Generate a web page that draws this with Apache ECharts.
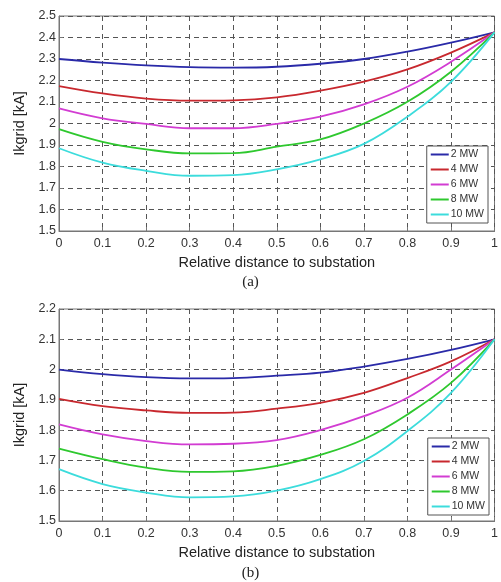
<!DOCTYPE html>
<html>
<head>
<meta charset="utf-8">
<script src="https://cdn.jsdelivr.net/npm/echarts@6/dist/echarts.min.js"></script>
<style>html,body{margin:0;padding:0;background:#fff;}#c{width:501px;height:582px;}</style>
</head>
<body>
<div id="c"></div>
<script>
const xValues = [0, 0.1, 0.2, 0.3, 0.4, 0.5, 0.6, 0.7, 0.8, 0.9, 1.0];
const seriesNames = ['2 MW', '4 MW', '6 MW', '8 MW', '10 MW'];
// Panel (a)
const a2MW  = [2.300, 2.283, 2.270, 2.262, 2.260, 2.264, 2.278, 2.300, 2.334, 2.376, 2.424];
const a4MW  = [2.174, 2.140, 2.116, 2.106, 2.108, 2.122, 2.153, 2.195, 2.252, 2.330, 2.424];
const a6MW  = [2.070, 2.024, 1.998, 1.978, 1.978, 1.998, 2.032, 2.089, 2.171, 2.287, 2.424];
const a8MW  = [1.974, 1.915, 1.880, 1.861, 1.862, 1.892, 1.926, 2.000, 2.101, 2.241, 2.424];
const a10MW = [1.885, 1.818, 1.780, 1.757, 1.760, 1.787, 1.833, 1.905, 2.032, 2.194, 2.424];
// Panel (b)
const b2MW  = [2.000, 1.985, 1.975, 1.971, 1.972, 1.980, 1.990, 2.010, 2.035, 2.065, 2.100];
const b4MW  = [1.903, 1.879, 1.865, 1.857, 1.858, 1.871, 1.890, 1.923, 1.972, 2.027, 2.100];
const b6MW  = [1.819, 1.786, 1.764, 1.753, 1.755, 1.767, 1.800, 1.846, 1.907, 2.000, 2.100];
const b8MW  = [1.739, 1.704, 1.676, 1.662, 1.664, 1.682, 1.718, 1.770, 1.852, 1.956, 2.100];
const b10MW = [1.671, 1.622, 1.594, 1.578, 1.581, 1.600, 1.638, 1.698, 1.797, 1.923, 2.100];
const xTitle = 'Relative distance to substation';
const yTitle = 'Ikgrid [kA]';

const colors = ['#2a2aa8', '#c8282e', '#d23cd2', '#2ec82e', '#3cdcdc'];
const font = 'Liberation Sans, Arial, sans-serif';
const serif = 'Liberation Serif, Times New Roman, serif';

function pair(arr) { return xValues.map((x, i) => [x, arr[i]]); }

function mkX(idx) {
  return {
    type: 'value', gridIndex: idx, min: 0, max: 1, interval: 0.1,
    name: xTitle, nameLocation: 'middle', nameGap: 24,
    nameTextStyle: {fontFamily: font, fontSize: 14.5, color: '#222'},
    axisLine: {show: true, onZero: false, lineStyle: {color: '#777', width: 1}},
    axisTick: {show: true, inside: true, length: 4, lineStyle: {color: '#777'}},
    axisLabel: {fontFamily: font, fontSize: 12.5, color: '#333', margin: 6,
      formatter: v => (Math.round(v * 10) / 10).toString()},
    splitLine: {show: true, lineStyle: {color: '#555', type: [5, 4], width: 1}}
  };
}
function mkY(idx, min, max) {
  return {
    type: 'value', gridIndex: idx, min: min, max: max, interval: 0.1,
    name: yTitle, nameLocation: 'middle', nameGap: 28, nameRotate: 90,
    nameTextStyle: {fontFamily: font, fontSize: 14.5, color: '#222'},
    axisLine: {show: true, lineStyle: {color: '#777', width: 1}},
    axisTick: {show: true, inside: true, length: 4, lineStyle: {color: '#777'}},
    axisLabel: {fontFamily: font, fontSize: 12.5, color: '#333', margin: 3,
      formatter: v => (Math.round(v * 10) / 10).toString()},
    splitLine: {show: true, lineStyle: {color: '#555', type: [5, 4], width: 1}}
  };
}
function mkSeries(idx, arrs) {
  return arrs.map((arr, i) => ({
    type: 'line', name: seriesNames[i], xAxisIndex: idx, yAxisIndex: idx,
    data: pair(arr), smooth: 0.4, showSymbol: false, symbol: 'none',
    lineStyle: {color: colors[i], width: 1.8}, itemStyle: {color: colors[i]},
    z: 3
  }));
}
function mkLegend(top, right) {
  return {
    data: seriesNames, orient: 'vertical', right: right, top: top,
    icon: 'rect', itemWidth: 18, itemHeight: 2, itemGap: 4,
    backgroundColor: '#fff', borderColor: '#555', borderWidth: 1,
    padding: [3, 4, 3, 4], borderRadius: 0,
    textStyle: {fontFamily: font, fontSize: 10.5, color: '#333', padding: [0, 0, 0, -3]}
  };
}

const chart = echarts.init(document.getElementById('c'), null, {renderer: 'canvas'});
chart.setOption({
  backgroundColor: '#fff',
  animation: false,
  color: colors,
  title: [
    {text: '(a)', left: 'center', top: 275, padding: 0, textStyle: {fontFamily: serif, fontSize: 15, fontWeight: 'normal', color: '#222'}},
    {text: '(b)', left: 'center', top: 566, padding: 0, textStyle: {fontFamily: serif, fontSize: 15, fontWeight: 'normal', color: '#222'}}
  ],
  legend: [mkLegend(146, 13), mkLegend(438, 12)],
  grid: [
    {left: 59, right: 5, top: 16, height: 215, show: true, borderColor: '#777', borderWidth: 1, backgroundColor: 'transparent'},
    {left: 59, right: 5, top: 309, height: 212, show: true, borderColor: '#777', borderWidth: 1, backgroundColor: 'transparent'}
  ],
  xAxis: [mkX(0), mkX(1)],
  yAxis: [mkY(0, 1.5, 2.5), mkY(1, 1.5, 2.2)],
  series: mkSeries(0, [a2MW, a4MW, a6MW, a8MW, a10MW]).concat(mkSeries(1, [b2MW, b4MW, b6MW, b8MW, b10MW]))
});
</script>
</body>
</html>
